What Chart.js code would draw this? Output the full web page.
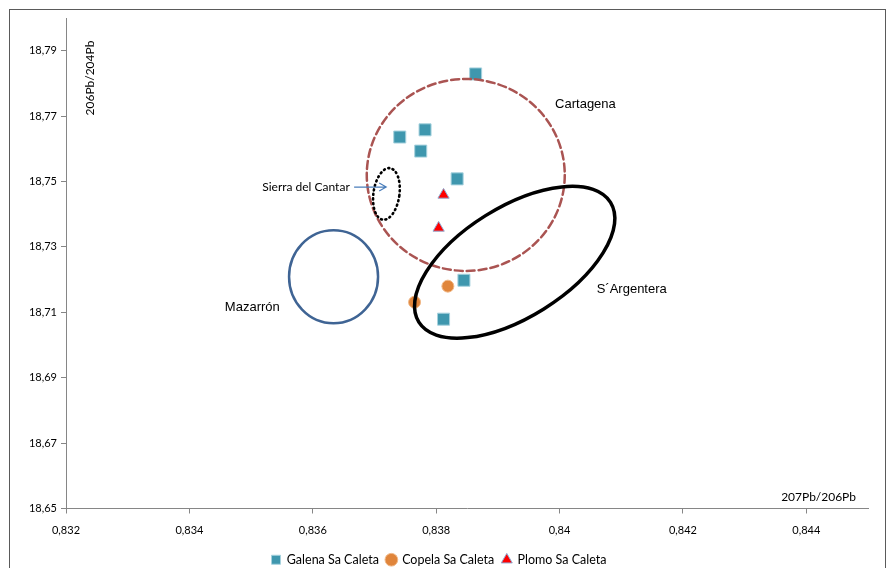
<!DOCTYPE html>
<html>
<head>
<meta charset="utf-8">
<script src="https://cdn.jsdelivr.net/npm/chart.js@4.4.1/dist/chart.umd.min.js"></script>
<style>
  html, body { margin: 0; padding: 0; background: #fff; overflow: hidden; }
  #wrap { position: relative; width: 890px; height: 576px; }
  #frame { position: absolute; left: 9px; top: 9px; width: 875px; height: 580px; border: 1px solid #5a5a5a; }
  canvas { position: absolute; left: 0; top: 0; }
</style>
</head>
<body>
<div id="wrap">
  <div id="frame"></div>
  <canvas id="chart" width="890" height="576"></canvas>
</div>
<script>
// valores (207Pb/206Pb, 206Pb/204Pb)
const galenaX = [0.83864, 0.83741, 0.83782, 0.83775, 0.83834, 0.83845, 0.83812];
const galenaY = [18.7829, 18.7636, 18.7658, 18.7593, 18.7508, 18.7198, 18.7079];
const copelaX = [0.83819, 0.83765];
const copelaY = [18.7180, 18.7131];
const plomoX = [0.83812, 0.83804];
const plomoY = [18.7459, 18.7358];

const xTicks = [0.832, 0.834, 0.836, 0.838, 0.840, 0.842, 0.844];
const yTicks = [18.65, 18.67, 18.69, 18.71, 18.73, 18.75, 18.77, 18.79];

// zonas de referencia (centro en unidades de datos)
const zones = [
    { cx: 0.83848, cy: 18.7520, rx: 99, ry: 96, rot: 0, color: '#aa5452', width: 2.5, dash: [8, 4] },
    { cx: 0.837194, cy: 18.7462, rx: 13, ry: 26, rot: 8, color: '#000000', width: 2.6, dash: [1, 3.6] },
    { cx: 0.836337, cy: 18.7209, rx: 44.5, ry: 46.5, rot: 0, color: '#3f6494', width: 2.5, dash: [] },
    { cx: 0.839273, cy: 18.7253, rx: 113, ry: 55, rot: -32, color: '#000000', width: 3.5, dash: [] }
];
const zoneLabels = [
    { text: 'Cartagena', x: 0.84042, y: 18.7737, font: '13px "Liberation Sans", Arial' },
    { text: 'S´Argentera', x: 0.84117, y: 18.7171, font: '13px "Liberation Sans", Arial' },
    { text: 'Mazarrón', x: 0.83502, y: 18.7116, font: '13px "Liberation Sans", Arial' },
    { text: 'Sierra del Cantar', x: 0.83589, y: 18.7483, font: '12px Lato' }
];
const arrow = { x1: 0.83667, x2: 0.83719, y: 18.7483 };

function toPoints(xs, ys) {
    return xs.map((x, i) => ({ x: x, y: ys[i] }));
}
function comma(v, dec) {
    return (dec ? v.toFixed(dec) : String(+v.toFixed(3))).replace('.', ',');
}

const zonesPlugin = {
    id: 'zones',
    afterDatasetsDraw(chart) {
        const ctx = chart.ctx;
        const sx = chart.scales.x, sy = chart.scales.y;
        zones.forEach(z => {
            ctx.save();
            ctx.beginPath();
            ctx.ellipse(sx.getPixelForValue(z.cx), sy.getPixelForValue(z.cy), z.rx, z.ry, z.rot * Math.PI / 180, 0, Math.PI * 2);
            ctx.strokeStyle = z.color;
            ctx.lineWidth = z.width;
            ctx.setLineDash(z.dash);
            ctx.lineCap = z.dash.length ? 'round' : 'butt';
            ctx.stroke();
            ctx.restore();
        });
        ctx.save();
        ctx.fillStyle = '#000';
        ctx.textAlign = 'center';
        ctx.textBaseline = 'middle';
        zoneLabels.forEach(l => {
            ctx.font = l.font;
            ctx.fillText(l.text, sx.getPixelForValue(l.x), sy.getPixelForValue(l.y));
        });
        // flecha de Sierra del Cantar
        const ax1 = sx.getPixelForValue(arrow.x1), ax2 = sx.getPixelForValue(arrow.x2), ay = sy.getPixelForValue(arrow.y);
        ctx.strokeStyle = '#4a7ebb';
        ctx.lineWidth = 1.2;
        ctx.beginPath();
        ctx.moveTo(ax1, ay);
        ctx.lineTo(ax2, ay);
        ctx.moveTo(ax2 - 7, ay - 4);
        ctx.lineTo(ax2, ay);
        ctx.lineTo(ax2 - 7, ay + 4);
        ctx.stroke();
        // títulos de ejes
        ctx.font = '12px Lato';
        ctx.textAlign = 'right';
        ctx.fillText('207Pb/206Pb', chart.chartArea.right - 12, chart.chartArea.bottom - 11);
        ctx.translate(chart.chartArea.left + 24, chart.chartArea.top + 60);
        ctx.rotate(-Math.PI / 2);
        ctx.textAlign = 'center';
        ctx.fillText('206Pb/204Pb', 0, 0);
        ctx.restore();
    }
};

const config = {
    type: 'scatter',
    data: {
        datasets: [
            {
                label: 'Galena Sa Caleta',
                data: toPoints(galenaX, galenaY),
                pointStyle: 'rect',
                pointRadius: 8.5,
                backgroundColor: '#3f97ae',
                borderColor: '#a7d2de',
                borderWidth: 1
            },
            {
                label: 'Copela Sa Caleta',
                data: toPoints(copelaX, copelaY),
                pointStyle: 'circle',
                pointRadius: 6,
                backgroundColor: '#e0853b',
                borderColor: '#f0b887',
                borderWidth: 1
            },
            {
                label: 'Plomo Sa Caleta',
                data: toPoints(plomoX, plomoY),
                pointStyle: 'triangle',
                pointRadius: 6.5,
                backgroundColor: '#ff0000',
                borderColor: '#8fa9d0',
                borderWidth: 1
            }
        ]
    },
    options: {
        responsive: false,
        animation: false,
        layout: { padding: { left: 10, top: 18, right: 22, bottom: 0 } },
        scales: {
            x: {
                type: 'linear',
                min: 0.832,
                max: 0.845,
                afterBuildTicks: s => { s.ticks = xTicks.map(v => ({ value: v })); },
                afterFit: s => { s.height = 37; },
                grid: { drawOnChartArea: false, drawTicks: true, tickLength: 5, color: '#868686' },
                border: { color: '#868686', width: 1 },
                ticks: {
                    padding: 10,
                    maxRotation: 0,
                    color: '#000',
                    font: { family: 'Lato', size: 11 },
                    callback: v => comma(v, 0)
                }
            },
            y: {
                type: 'linear',
                min: 18.65,
                max: 18.80,
                afterBuildTicks: s => { s.ticks = yTicks.map(v => ({ value: v })); },
                afterFit: s => { s.width = 56; },
                grid: { drawOnChartArea: false, drawTicks: true, tickLength: 5, color: '#868686' },
                border: { color: '#868686', width: 1 },
                ticks: {
                    padding: 4,
                    color: '#000',
                    font: { family: 'Lato', size: 11 },
                    callback: v => comma(v, 2)
                }
            }
        },
        plugins: {
            legend: {
                position: 'bottom',
                labels: {
                    usePointStyle: true,
                    boxWidth: 9,
                    boxHeight: 9,
                    padding: 8,
                    color: '#000',
                    font: { family: 'Lato', size: 12.5 }
                }
            },
            tooltip: { enabled: false }
        }
    },
    plugins: [zonesPlugin]
};

new Chart(document.getElementById('chart'), config);
</script>
</body>
</html>
